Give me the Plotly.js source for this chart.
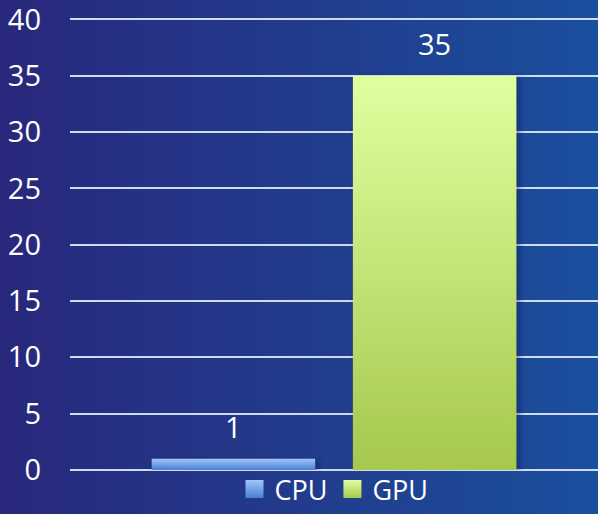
<!DOCTYPE html>
<html>
<head>
<meta charset="utf-8">
<script src="https://cdn.plot.ly/plotly-3.0.1.min.js"></script>
<style>
  html, body { margin: 0; padding: 0; }
  body { width: 598px; height: 514px; overflow: hidden;
         background: linear-gradient(to right, #28287c 0%, #23398a 45%, #1a4f9e 100%); }
  #chart { width: 598px; height: 514px; }
</style>
</head>
<body>
<div id="chart"></div>
<script>
const categories = ['CPU', 'GPU'];
const values = [1, 35];
const yTicks = [0, 5, 10, 15, 20, 25, 30, 35, 40];
const baseColors = ['#6f9fe6', '#c4e27a'];
const gradients = [['#a0c6fa', '#4a7fd2'], ['#e0ffa0', '#a5c84d']];

const FONT = 'Open Sans, Lato, sans-serif';
const FS = 29;

const traces = categories.map((c, i) => ({
  type: 'bar',
  name: c,
  x: [c],
  y: [values[i]],
  width: 0.812,
  marker: { color: baseColors[i], line: { width: 0 } },
  hoverinfo: 'none'
}));

const annotations = categories.map((c, i) => ({
  x: c, y: values[i], xref: 'x', yref: 'y',
  text: String(values[i]), showarrow: false,
  yanchor: 'bottom', yshift: 11,
  font: { family: FONT, size: FS, color: '#ffffff' }
}));

const layout = {
  width: 598, height: 514,
  margin: { l: 70, r: 0, t: 16, b: 44, pad: 0, autoexpand: false },
  paper_bgcolor: 'rgba(0,0,0,0)',
  plot_bgcolor: 'rgba(0,0,0,0)',
  barmode: 'overlay',
  showlegend: true,
  legend: {
    orientation: 'h', x: 0.5, xanchor: 'center',
    yref: 'container', y: 0.0, yanchor: 'bottom',
    font: { family: FONT, size: 27, color: '#ffffff' },
    bgcolor: 'rgba(0,0,0,0)', itemwidth: 30, tracegroupgap: 0
  },
  xaxis: {
    type: 'category', range: [-0.812, 1.812],
    showticklabels: false, showgrid: false, zeroline: false, showline: false, ticks: ''
  },
  yaxis: {
    range: [0, 40.3], tickvals: yTicks, ticktext: yTicks.map(String),
    showgrid: true, gridcolor: 'rgba(215,228,248,0.95)', gridwidth: 2,
    zeroline: true, zerolinecolor: 'rgba(215,228,248,0.95)', zerolinewidth: 2,
    showline: false, ticks: '', ticklabelstandoff: 28, ticklabeloverflow: 'allow',
    tickfont: { family: FONT, size: FS, color: '#ffffff' }
  },
  annotations: annotations,
  font: { family: FONT, color: '#ffffff' }
};

Plotly.newPlot('chart', traces, layout, { staticPlot: true, displayModeBar: false }).then(gd => {
  const svg = gd.querySelector('svg.main-svg');
  const NS = 'http://www.w3.org/2000/svg';
  let defs = svg.querySelector('defs');
  if (!defs) { defs = document.createElementNS(NS, 'defs'); svg.insertBefore(defs, svg.firstChild); }
  gradients.forEach((g, i) => {
    const lg = document.createElementNS(NS, 'linearGradient');
    lg.setAttribute('id', 'barGrad' + i);
    lg.setAttribute('x1', '0'); lg.setAttribute('y1', '0');
    lg.setAttribute('x2', '0'); lg.setAttribute('y2', '1');
    [[0, g[0]], [1, g[1]]].forEach(([o, c]) => {
      const s = document.createElementNS(NS, 'stop');
      s.setAttribute('offset', o); s.setAttribute('stop-color', c);
      lg.appendChild(s);
    });
    defs.appendChild(lg);
  });
  const f = document.createElementNS(NS, 'filter');
  f.setAttribute('id', 'barShadow');
  f.setAttribute('x', '-10%'); f.setAttribute('y', '-10%');
  f.setAttribute('width', '130%'); f.setAttribute('height', '130%');
  f.innerHTML = '<feDropShadow dx="3" dy="2" stdDeviation="3" flood-color="#0a1540" flood-opacity="0.45"/>';
  defs.appendChild(f);

  const barTraces = svg.querySelectorAll('g.trace.bars');
  barTraces.forEach((t, i) => {
    t.querySelectorAll('path').forEach(p => {
      p.style.fill = 'url(#barGrad' + i + ')';
      p.setAttribute('filter', 'url(#barShadow)');
    });
  });
  const legendPts = gd.querySelectorAll('g.legend g.traces');
  legendPts.forEach((t, i) => {
    t.querySelectorAll('g.legendpoints path').forEach(p => {
      p.setAttribute('d', 'M9,9H-9V-9H9Z');
      p.style.fill = 'url(#barGrad' + i + ')';
    });
  });
});
</script>
</body>
</html>
